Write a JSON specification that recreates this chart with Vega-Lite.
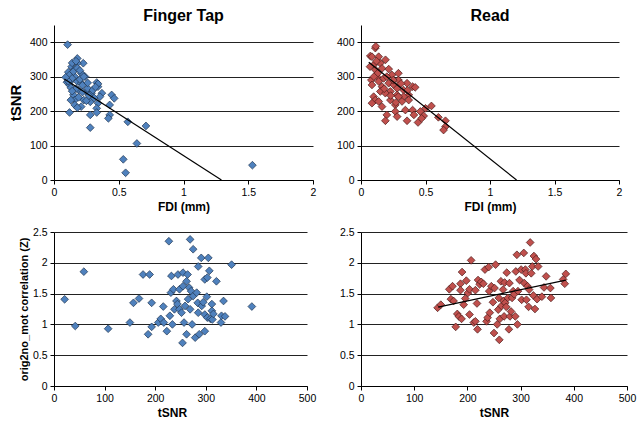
{
  "$schema": "https://vega.github.io/schema/vega-lite/v6.json",
  "padding": {"left": 8, "top": 8, "right": 2, "bottom": 2},
  "background": "white",
  "config": {
    "view": {"stroke": null},
    "font": "Liberation Sans",
    "axis": {"domainColor": "#000", "tickColor": "#000", "gridColor": "#222", "gridWidth": 1, "labelColor": "#000", "labelFontSize": 10.5, "labelFont": "Liberation Sans", "titleFont": "Liberation Sans", "titleFontWeight": "bold", "titleColor": "#000", "tickSize": 4, "labelPadding": 3, "labelOverlap": false, "labelFlush": false, "labelBound": false, "labelExpr": "'' + datum.value"},
    "title": {"font": "Liberation Sans", "fontSize": 16, "fontWeight": "bold", "color": "#000", "offset": 1}
  },
  "columns": 2,
  "spacing": {"row": 14, "column": 20},
  "datasets": {
    "ft": [
      {"fdi": 0.105, "tsnr": 393}, {"fdi": 0.18, "tsnr": 353}, {"fdi": 0.226, "tsnr": 339}, {"fdi": 0.18, "tsnr": 339},
      {"fdi": 0.136, "tsnr": 329}, {"fdi": 0.11, "tsnr": 313}, {"fdi": 0.16, "tsnr": 321}, {"fdi": 0.21, "tsnr": 310},
      {"fdi": 0.24, "tsnr": 300}, {"fdi": 0.1, "tsnr": 284}, {"fdi": 0.136, "tsnr": 290}, {"fdi": 0.12, "tsnr": 276},
      {"fdi": 0.16, "tsnr": 300}, {"fdi": 0.18, "tsnr": 286}, {"fdi": 0.21, "tsnr": 281}, {"fdi": 0.19, "tsnr": 261},
      {"fdi": 0.15, "tsnr": 247}, {"fdi": 0.16, "tsnr": 232}, {"fdi": 0.16, "tsnr": 218}, {"fdi": 0.21, "tsnr": 213},
      {"fdi": 0.23, "tsnr": 232}, {"fdi": 0.25, "tsnr": 256}, {"fdi": 0.26, "tsnr": 266}, {"fdi": 0.29, "tsnr": 252},
      {"fdi": 0.3, "tsnr": 261}, {"fdi": 0.33, "tsnr": 283}, {"fdi": 0.34, "tsnr": 271}, {"fdi": 0.34, "tsnr": 279},
      {"fdi": 0.37, "tsnr": 252}, {"fdi": 0.355, "tsnr": 242}, {"fdi": 0.28, "tsnr": 227}, {"fdi": 0.34, "tsnr": 223},
      {"fdi": 0.33, "tsnr": 208}, {"fdi": 0.33, "tsnr": 196}, {"fdi": 0.12, "tsnr": 196}, {"fdi": 0.28, "tsnr": 189},
      {"fdi": 0.28, "tsnr": 152}, {"fdi": 0.445, "tsnr": 247}, {"fdi": 0.465, "tsnr": 237}, {"fdi": 0.43, "tsnr": 218},
      {"fdi": 0.43, "tsnr": 189}, {"fdi": 0.42, "tsnr": 179}, {"fdi": 0.57, "tsnr": 169}, {"fdi": 0.71, "tsnr": 157},
      {"fdi": 0.64, "tsnr": 106}, {"fdi": 0.535, "tsnr": 60}, {"fdi": 0.553, "tsnr": 21}, {"fdi": 1.532, "tsnr": 43},
      {"fdi": 0.12, "tsnr": 305}, {"fdi": 0.14, "tsnr": 295}, {"fdi": 0.13, "tsnr": 268}, {"fdi": 0.17, "tsnr": 265},
      {"fdi": 0.2, "tsnr": 292}, {"fdi": 0.22, "tsnr": 275}, {"fdi": 0.19, "tsnr": 240}, {"fdi": 0.25, "tsnr": 230},
      {"fdi": 0.14, "tsnr": 258}, {"fdi": 0.11, "tsnr": 287}, {"fdi": 0.15, "tsnr": 315}, {"fdi": 0.18, "tsnr": 325},
      {"fdi": 0.23, "tsnr": 300}, {"fdi": 0.14, "tsnr": 340}, {"fdi": 0.17, "tsnr": 345}, {"fdi": 0.2, "tsnr": 318},
      {"fdi": 0.26, "tsnr": 282}, {"fdi": 0.22, "tsnr": 255}, {"fdi": 0.31, "tsnr": 238}, {"fdi": 0.09, "tsnr": 298},
      {"fdi": 0.13, "tsnr": 232}, {"fdi": 0.18, "tsnr": 210}, {"fdi": 0.27, "tsnr": 245}, {"fdi": 0.32, "tsnr": 270}
    ],
    "ftline": [{"fdi": 0.08, "tsnr": 293}, {"fdi": 1.293, "tsnr": 0}],
    "rd": [
      {"fdi": 0.111, "tsnr": 383}, {"fdi": 0.115, "tsnr": 388}, {"fdi": 0.072, "tsnr": 360}, {"fdi": 0.085, "tsnr": 358},
      {"fdi": 0.137, "tsnr": 358}, {"fdi": 0.19, "tsnr": 349}, {"fdi": 0.15, "tsnr": 339}, {"fdi": 0.098, "tsnr": 334},
      {"fdi": 0.07, "tsnr": 329}, {"fdi": 0.163, "tsnr": 324}, {"fdi": 0.111, "tsnr": 320}, {"fdi": 0.215, "tsnr": 322},
      {"fdi": 0.24, "tsnr": 305}, {"fdi": 0.29, "tsnr": 310}, {"fdi": 0.124, "tsnr": 300}, {"fdi": 0.176, "tsnr": 295},
      {"fdi": 0.08, "tsnr": 290}, {"fdi": 0.137, "tsnr": 286}, {"fdi": 0.29, "tsnr": 290}, {"fdi": 0.357, "tsnr": 281},
      {"fdi": 0.215, "tsnr": 281}, {"fdi": 0.254, "tsnr": 276}, {"fdi": 0.085, "tsnr": 276}, {"fdi": 0.163, "tsnr": 271},
      {"fdi": 0.4, "tsnr": 271}, {"fdi": 0.42, "tsnr": 269}, {"fdi": 0.28, "tsnr": 266}, {"fdi": 0.33, "tsnr": 261},
      {"fdi": 0.15, "tsnr": 257}, {"fdi": 0.228, "tsnr": 257}, {"fdi": 0.189, "tsnr": 252}, {"fdi": 0.28, "tsnr": 247},
      {"fdi": 0.37, "tsnr": 247}, {"fdi": 0.098, "tsnr": 242}, {"fdi": 0.33, "tsnr": 242}, {"fdi": 0.111, "tsnr": 232},
      {"fdi": 0.228, "tsnr": 232}, {"fdi": 0.37, "tsnr": 232}, {"fdi": 0.137, "tsnr": 228}, {"fdi": 0.085, "tsnr": 223},
      {"fdi": 0.163, "tsnr": 213}, {"fdi": 0.266, "tsnr": 218}, {"fdi": 0.5, "tsnr": 208}, {"fdi": 0.546, "tsnr": 215},
      {"fdi": 0.266, "tsnr": 199}, {"fdi": 0.344, "tsnr": 203}, {"fdi": 0.4, "tsnr": 203}, {"fdi": 0.46, "tsnr": 199},
      {"fdi": 0.2, "tsnr": 189}, {"fdi": 0.28, "tsnr": 184}, {"fdi": 0.41, "tsnr": 189}, {"fdi": 0.486, "tsnr": 186},
      {"fdi": 0.189, "tsnr": 172}, {"fdi": 0.357, "tsnr": 172}, {"fdi": 0.442, "tsnr": 167}, {"fdi": 0.47, "tsnr": 179},
      {"fdi": 0.6, "tsnr": 182}, {"fdi": 0.655, "tsnr": 172}, {"fdi": 0.655, "tsnr": 155}, {"fdi": 0.64, "tsnr": 145},
      {"fdi": 0.29, "tsnr": 242}, {"fdi": 0.318, "tsnr": 228}, {"fdi": 0.12, "tsnr": 345}, {"fdi": 0.2, "tsnr": 300},
      {"fdi": 0.25, "tsnr": 290}, {"fdi": 0.31, "tsnr": 280}, {"fdi": 0.18, "tsnr": 265}, {"fdi": 0.13, "tsnr": 310},
      {"fdi": 0.1, "tsnr": 300}, {"fdi": 0.23, "tsnr": 245}, {"fdi": 0.36, "tsnr": 260}, {"fdi": 0.27, "tsnr": 225}
    ],
    "rdline": [{"fdi": 0.06, "tsnr": 342}, {"fdi": 1.206, "tsnr": 0}],
    "ft2": [
      {"tsnr": 21, "z": 1.407}, {"tsnr": 42, "z": 0.974}, {"tsnr": 59, "z": 1.856}, {"tsnr": 107, "z": 0.93},
      {"tsnr": 150, "z": 1.03}, {"tsnr": 157, "z": 1.35}, {"tsnr": 168, "z": 1.42}, {"tsnr": 176, "z": 1.81},
      {"tsnr": 189, "z": 1.81}, {"tsnr": 186, "z": 0.84}, {"tsnr": 193, "z": 1.35}, {"tsnr": 193, "z": 0.96},
      {"tsnr": 206, "z": 1.03}, {"tsnr": 211, "z": 1.09}, {"tsnr": 216, "z": 1.29}, {"tsnr": 217, "z": 1.03},
      {"tsnr": 223, "z": 0.89}, {"tsnr": 227, "z": 2.35}, {"tsnr": 229, "z": 1.14}, {"tsnr": 231, "z": 1.515},
      {"tsnr": 232, "z": 1.786}, {"tsnr": 234, "z": 1.0}, {"tsnr": 236, "z": 1.57}, {"tsnr": 238, "z": 1.245},
      {"tsnr": 242, "z": 1.38}, {"tsnr": 245, "z": 1.81}, {"tsnr": 244, "z": 1.33}, {"tsnr": 248, "z": 1.245},
      {"tsnr": 248, "z": 1.57}, {"tsnr": 252, "z": 1.19}, {"tsnr": 255, "z": 1.84}, {"tsnr": 255, "z": 1.62},
      {"tsnr": 254, "z": 0.7}, {"tsnr": 257, "z": 1.03}, {"tsnr": 259, "z": 1.3}, {"tsnr": 262, "z": 1.7},
      {"tsnr": 262, "z": 0.84}, {"tsnr": 264, "z": 1.81}, {"tsnr": 265, "z": 1.41}, {"tsnr": 267, "z": 1.597},
      {"tsnr": 269, "z": 2.38}, {"tsnr": 269, "z": 1.245}, {"tsnr": 271, "z": 1.54}, {"tsnr": 273, "z": 1.0},
      {"tsnr": 275, "z": 2.22}, {"tsnr": 275, "z": 1.46}, {"tsnr": 279, "z": 0.785}, {"tsnr": 282, "z": 1.515},
      {"tsnr": 284, "z": 1.35}, {"tsnr": 285, "z": 1.94}, {"tsnr": 285, "z": 1.19}, {"tsnr": 287, "z": 0.84},
      {"tsnr": 291, "z": 2.08}, {"tsnr": 292, "z": 1.3}, {"tsnr": 295, "z": 1.36}, {"tsnr": 298, "z": 1.73},
      {"tsnr": 298, "z": 1.16}, {"tsnr": 298, "z": 0.89}, {"tsnr": 302, "z": 1.45}, {"tsnr": 303, "z": 1.76},
      {"tsnr": 303, "z": 1.11}, {"tsnr": 305, "z": 2.08}, {"tsnr": 307, "z": 1.87}, {"tsnr": 309, "z": 1.09},
      {"tsnr": 312, "z": 1.33}, {"tsnr": 312, "z": 1.22}, {"tsnr": 313, "z": 1.08}, {"tsnr": 315, "z": 1.17},
      {"tsnr": 321, "z": 1.7}, {"tsnr": 330, "z": 1.03}, {"tsnr": 331, "z": 1.14}, {"tsnr": 335, "z": 1.38},
      {"tsnr": 338, "z": 1.13}, {"tsnr": 351, "z": 1.97}, {"tsnr": 391, "z": 1.29}
    ],
    "rd2": [
      {"tsnr": 144, "z": 1.27}, {"tsnr": 150, "z": 1.32}, {"tsnr": 166, "z": 1.57}, {"tsnr": 169, "z": 1.41},
      {"tsnr": 172, "z": 1.62}, {"tsnr": 174, "z": 1.38}, {"tsnr": 178, "z": 0.96}, {"tsnr": 181, "z": 1.17},
      {"tsnr": 184, "z": 1.13}, {"tsnr": 187, "z": 1.66}, {"tsnr": 187, "z": 1.555}, {"tsnr": 189, "z": 1.09},
      {"tsnr": 190, "z": 1.85}, {"tsnr": 193, "z": 1.32}, {"tsnr": 196, "z": 1.42}, {"tsnr": 198, "z": 1.71},
      {"tsnr": 201, "z": 1.51}, {"tsnr": 204, "z": 1.57}, {"tsnr": 204, "z": 1.16}, {"tsnr": 207, "z": 2.04},
      {"tsnr": 212, "z": 1.03}, {"tsnr": 215, "z": 1.05}, {"tsnr": 215, "z": 1.555}, {"tsnr": 218, "z": 1.34},
      {"tsnr": 219, "z": 0.92}, {"tsnr": 220, "z": 1.72}, {"tsnr": 223, "z": 1.65}, {"tsnr": 226, "z": 1.69},
      {"tsnr": 230, "z": 1.66}, {"tsnr": 233, "z": 1.89}, {"tsnr": 236, "z": 1.05}, {"tsnr": 238, "z": 1.11},
      {"tsnr": 240, "z": 1.93}, {"tsnr": 241, "z": 1.54}, {"tsnr": 242, "z": 1.19}, {"tsnr": 245, "z": 1.62},
      {"tsnr": 248, "z": 1.36}, {"tsnr": 250, "z": 0.86}, {"tsnr": 251, "z": 1.59}, {"tsnr": 253, "z": 1.97},
      {"tsnr": 256, "z": 1.0}, {"tsnr": 258, "z": 1.24}, {"tsnr": 259, "z": 1.43}, {"tsnr": 260, "z": 0.75},
      {"tsnr": 261, "z": 1.09}, {"tsnr": 263, "z": 1.7}, {"tsnr": 264, "z": 1.3}, {"tsnr": 267, "z": 1.565},
      {"tsnr": 268, "z": 1.38}, {"tsnr": 269, "z": 1.13}, {"tsnr": 270, "z": 1.68}, {"tsnr": 271, "z": 1.35},
      {"tsnr": 273, "z": 1.285}, {"tsnr": 274, "z": 1.84}, {"tsnr": 276, "z": 1.43}, {"tsnr": 278, "z": 0.92},
      {"tsnr": 279, "z": 1.67}, {"tsnr": 280, "z": 1.13}, {"tsnr": 282, "z": 1.21}, {"tsnr": 284, "z": 1.43},
      {"tsnr": 286, "z": 1.54}, {"tsnr": 288, "z": 1.49}, {"tsnr": 290, "z": 1.13}, {"tsnr": 291, "z": 1.86},
      {"tsnr": 293, "z": 2.13}, {"tsnr": 294, "z": 1.0}, {"tsnr": 295, "z": 1.54}, {"tsnr": 298, "z": 1.72},
      {"tsnr": 301, "z": 1.89}, {"tsnr": 302, "z": 1.4}, {"tsnr": 306, "z": 2.16}, {"tsnr": 307, "z": 1.67},
      {"tsnr": 309, "z": 1.89}, {"tsnr": 310, "z": 1.83}, {"tsnr": 311, "z": 1.4}, {"tsnr": 313, "z": 1.62},
      {"tsnr": 315, "z": 1.285}, {"tsnr": 316, "z": 1.565}, {"tsnr": 318, "z": 2.33}, {"tsnr": 320, "z": 1.83},
      {"tsnr": 322, "z": 1.94}, {"tsnr": 324, "z": 1.47}, {"tsnr": 325, "z": 2.11}, {"tsnr": 327, "z": 1.25},
      {"tsnr": 329, "z": 2.06}, {"tsnr": 331, "z": 1.41}, {"tsnr": 333, "z": 1.94}, {"tsnr": 340, "z": 1.45},
      {"tsnr": 344, "z": 1.6}, {"tsnr": 348, "z": 1.78}, {"tsnr": 356, "z": 1.59}, {"tsnr": 357, "z": 1.43},
      {"tsnr": 380, "z": 1.73}, {"tsnr": 383, "z": 1.66}, {"tsnr": 385, "z": 1.82}
    ],
    "rd2line": [{"tsnr": 145, "z": 1.28}, {"tsnr": 385, "z": 1.72}]
  },
  "concat": [
    {
      "title": "Finger Tap",
      "width": 259, "height": 155,
      "encoding": {
        "x": {"field": "fdi", "type": "quantitative", "scale": {"domain": [0, 2]}, "axis": {"values": [0, 0.5, 1, 1.5, 2], "grid": false, "title": "FDI (mm)", "titleFontSize": 12, "titlePadding": 4}},
        "y": {"field": "tsnr", "type": "quantitative", "scale": {"domain": [0, 450]}, "axis": {"values": [0, 100, 200, 300, 400], "grid": true, "title": "tSNR", "titleFontSize": 15, "titlePadding": 6}}
      },
      "layer": [
        {
          "data": {"name": "ft"},
          "mark": {"type": "point", "shape": "diamond", "filled": true, "size": 60, "color": "#4f81bd", "stroke": "#1f3550", "strokeWidth": 0.7, "opacity": 1}
        },
        {
          "data": {"name": "ftline"},
          "mark": {"type": "line", "color": "#000", "strokeWidth": 1.2}
        }
      ]
    },
    {
      "title": "Read",
      "width": 258, "height": 155,
      "encoding": {
        "x": {"field": "fdi", "type": "quantitative", "scale": {"domain": [0, 2]}, "axis": {"values": [0, 0.5, 1, 1.5, 2], "grid": false, "title": "FDI (mm)", "titleFontSize": 12, "titlePadding": 4}},
        "y": {"field": "tsnr", "type": "quantitative", "scale": {"domain": [0, 450]}, "axis": {"values": [0, 100, 200, 300, 400], "grid": true, "title": null}}
      },
      "layer": [
        {
          "data": {"name": "rd"},
          "mark": {"type": "point", "shape": "diamond", "filled": true, "size": 60, "color": "#c0504d", "stroke": "#4a1a19", "strokeWidth": 0.7, "opacity": 1}
        },
        {
          "data": {"name": "rdline"},
          "mark": {"type": "line", "color": "#000", "strokeWidth": 1.2}
        }
      ]
    },
    {
      "width": 253, "height": 154,
      "encoding": {
        "x": {"field": "tsnr", "type": "quantitative", "scale": {"domain": [0, 500]}, "axis": {"values": [0, 100, 200, 300, 400, 500], "grid": false, "title": "tSNR", "titleFontSize": 12, "titlePadding": 4, "titleX": 118}},
        "y": {"field": "z", "type": "quantitative", "scale": {"domain": [0, 2.5]}, "axis": {"values": [0, 0.5, 1, 1.5, 2, 2.5], "grid": true, "title": "orig2no_mot correlation (Z)", "titleFontSize": 11, "titlePadding": 3}}
      },
      "layer": [
        {
          "data": {"name": "ft2"},
          "mark": {"type": "point", "shape": "diamond", "filled": true, "size": 60, "color": "#4f81bd", "stroke": "#1f3550", "strokeWidth": 0.7, "opacity": 1}
        }
      ]
    },
    {
      "width": 266, "height": 154,
      "encoding": {
        "x": {"field": "tsnr", "type": "quantitative", "scale": {"domain": [0, 500]}, "axis": {"values": [0, 100, 200, 300, 400, 500], "grid": false, "title": "tSNR", "titleFontSize": 12, "titlePadding": 4}},
        "y": {"field": "z", "type": "quantitative", "scale": {"domain": [0, 2.5]}, "axis": {"values": [0, 0.5, 1, 1.5, 2, 2.5], "grid": true, "title": null}}
      },
      "layer": [
        {
          "data": {"name": "rd2"},
          "mark": {"type": "point", "shape": "diamond", "filled": true, "size": 60, "color": "#c0504d", "stroke": "#4a1a19", "strokeWidth": 0.7, "opacity": 1}
        },
        {
          "data": {"name": "rd2line"},
          "mark": {"type": "line", "color": "#000", "strokeWidth": 1.2}
        }
      ]
    }
  ]
}
